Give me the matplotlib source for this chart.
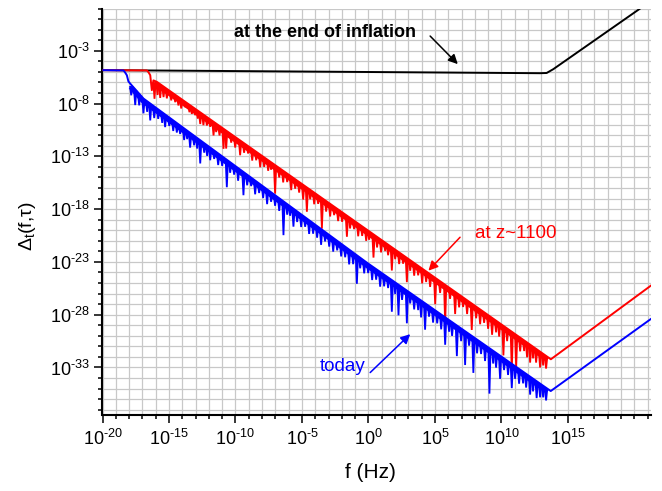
import numpy as np
import matplotlib
matplotlib.use("Agg")
import matplotlib.pyplot as plt
from matplotlib.ticker import FixedLocator, FuncFormatter, NullFormatter

plt.rcParams["font.family"] = ["Liberation Sans", "DejaVu Sans"]
plt.rcParams["mathtext.fontset"] = "custom"
plt.rcParams["mathtext.rm"] = "Liberation Sans"
plt.rcParams["mathtext.it"] = "Liberation Sans:italic"
plt.rcParams["mathtext.bf"] = "Liberation Sans:bold"
plt.rcParams["mathtext.default"] = "regular"

# ---- data: log10(f / Hz) and log10(Delta_t) --------------------------------
# end of inflation
black_logf = [-20.0, 12.9, 13.4, 13.9, 21.3]
black_logD = [-4.83, -5.12, -5.1, -4.74, 1.77]

# recombination, z ~ 1100 : upper edge of the oscillating spectrum
red_logf = [-20.0, -16.66, -16.53, -16.41, -16.29, -16.17, -15.91, 13.72, 21.3]
red_logD = [-4.83, -4.86, -5.05, -5.31, -6.73, -5.8, -5.94, -32.22, -25.19]
# positions of the oscillation minima and their depth (decades below the edge)
red_dip_logf = [
    -16.09, -15.86, -15.66, -15.41, -15.16, -14.83, -14.53, -14.29, -14.08, -13.78,
    -13.46, -13.28, -13.03, -12.83, -12.65, -12.41, -12.15, -11.90, -11.65, -11.45,
    -11.20, -10.90, -10.70, -10.32, -10.02, -9.65, -9.35, -9.05, -8.74, -8.44,
    -8.14, -7.84, -7.54, -7.32, -7.02, -6.71, -6.41, -6.11, -5.81, -5.51,
    -5.21, -4.91, -4.63, -4.38, -4.08, -3.78, -3.50, -3.18, -2.88, -2.58,
    -2.28, -1.98, -1.62, -1.38, -1.08, -0.77, -0.47, -0.17, 0.05, 0.38,
    0.65, 0.95, 1.26, 1.48, 1.76, 2.01, 2.31, 2.61, 2.89, 3.14,
    3.44, 3.74, 4.04, 4.34, 4.64, 5.02, 5.39, 5.77, 6.14, 6.52,
    6.82, 7.12, 7.42, 7.77, 8.10, 8.40, 8.70, 9.00, 9.30, 9.60,
    9.83, 10.15, 10.43, 10.78, 11.11, 11.41, 11.71, 11.93, 12.16, 12.38,
    12.61, 12.91, 13.14, 13.36,
]
red_dip_depth = [
    1.7, 1.2, 1.3, 1.0, 0.9, 0.8, 0.7, 0.8, 0.9, 0.5,
    0.7, 0.7, 0.6, 0.75, 1.1, 1.0, 0.8, 0.7, 1.3, 0.8,
    0.9, 1.9, 1.7, 0.8, 1.0, 1.4, 0.9, 0.7, 1.1, 0.8,
    1.2, 0.9, 1.0, 0.7, 2.7, 0.9, 1.1, 0.8, 1.3, 0.9,
    1.0, 1.4, 2.3, 0.9, 1.1, 0.8, 2.9, 1.0, 1.2, 0.8,
    1.1, 0.9, 2.0, 1.0, 0.8, 1.2, 0.9, 1.1, 0.8, 2.2,
    1.0, 1.2, 0.8, 1.0, 2.2, 0.9, 1.1, 0.8, 2.3, 1.0,
    1.2, 0.9, 1.4, 1.0, 1.2, 2.5, 1.1, 3.7, 1.0, 2.1,
    1.2, 0.9, 1.3, 2.5, 1.1, 1.4, 1.0, 1.3, 1.6, 1.1,
    1.3, 2.8, 1.2, 3.7, 3.1, 1.3, 1.0, 1.4, 1.7, 1.1,
    1.3, 1.5, 1.1, 1.2,
]

# today
blue_logf = [-20.0, -18.42, -18.3, -18.17, -18.05, -17.92, -16.92, -0.08, 13.71, 21.3]
blue_logD = [-4.83, -4.86, -5.05, -5.31, -5.9, -6.1, -7.52, -23.1, -35.23, -28.35]
blue_dip_logf = [
    -17.84, -17.54, -17.24, -16.92, -16.64, -16.41, -16.11, -15.81, -15.51, -15.29,
    -14.98, -14.68, -14.41, -14.16, -13.86, -13.63, -13.41, -13.11, -12.88, -12.65,
    -12.35, -12.13, -11.90, -11.60, -11.30, -11.00, -10.65, -10.40, -10.10, -9.80,
    -9.40, -9.12, -8.82, -8.52, -8.22, -7.92, -7.62, -7.32, -7.02, -6.71,
    -6.39, -6.11, -5.89, -5.64, -5.36, -5.06, -4.76, -4.46, -4.16, -3.86,
    -3.56, -3.26, -2.95, -2.65, -2.35, -2.05, -1.75, -1.45, -1.15, -0.87,
    -0.62, -0.32, -0.02, 0.28, 0.58, 0.88, 1.18, 1.48, 1.76, 2.01,
    2.26, 2.53, 2.89, 3.14, 3.44, 3.74, 3.96, 4.26, 4.56, 4.86,
    5.17, 5.47, 5.77, 6.07, 6.29, 6.65, 6.97, 7.27, 7.57, 7.89,
    8.17, 8.47, 8.77, 9.10, 9.38, 9.60, 9.90, 10.20, 10.50, 10.78,
    11.03, 11.33, 11.63, 11.86, 12.16, 12.38, 12.65, 12.91, 13.14, 13.36,
]
blue_dip_depth = [
    1.0, 1.5, 1.1, 1.4, 1.0, 1.6, 1.1, 0.9, 1.0, 1.2,
    0.8, 1.0, 0.9, 0.8, 1.1, 0.8, 1.4, 0.9, 1.0, 2.2,
    0.9, 1.0, 1.2, 0.8, 1.1, 0.9, 2.6, 1.0, 0.9, 1.2,
    2.2, 1.0, 0.8, 1.3, 0.9, 1.1, 1.4, 0.9, 1.0, 1.2,
    3.2, 1.0, 0.9, 1.7, 1.0, 1.2, 0.9, 1.3, 1.0, 1.1,
    1.5, 0.9, 1.1, 1.3, 0.9, 1.2, 1.0, 1.4, 1.1, 2.7,
    1.0, 1.2, 0.9, 1.3, 1.0, 1.4, 1.1, 1.0, 3.0, 1.1,
    2.9, 1.2, 3.1, 1.0, 1.3, 1.1, 1.6, 2.5, 1.0, 1.3,
    1.1, 1.4, 2.6, 1.1, 1.3, 2.9, 1.2, 3.2, 1.1, 3.4,
    1.3, 1.1, 1.5, 4.3, 1.2, 1.4, 2.2, 1.1, 1.3, 2.3,
    1.2, 1.4, 1.1, 1.3, 1.7, 1.2, 1.6, 1.3, 1.1, 1.2,
]

# axis ticks (exponents of ten)
x_major_exp = [-20, -15, -10, -5, 0, 5, 10, 15]
y_major_exp = [-33, -28, -23, -18, -13, -8, -3]
x_limits_exp = (-20.0, 21.25)
y_limits_exp = (-37.5, 1.0)

# ---- figure -----------------------------------------------------------------
W, H = 662, 491
fig = plt.figure(figsize=(W / 100, H / 100), dpi=100)
ax = fig.add_axes([102.5 / W, 76 / H, 548.5 / W, 406.4 / H])
ax.set_xscale("log")
ax.set_yscale("log")
ax.set_xlim(10.0 ** x_limits_exp[0], 10.0 ** x_limits_exp[1])
ax.set_ylim(10.0 ** y_limits_exp[0], 10.0 ** y_limits_exp[1])


def spectrum(logf, logD, dip_f, dip_depth, color, z):
    logf = np.asarray(logf)
    logD = np.asarray(logD)
    ax.plot(10.0 ** logf, 10.0 ** logD, color=color, lw=1.4, zorder=z,
            solid_capstyle="butt")
    if dip_f is None:
        return
    dip_f = np.asarray(dip_f)
    dip_depth = np.asarray(dip_depth)
    # dense oscillation band hanging from the upper edge
    lo, hi = dip_f.min() - 0.05, dip_f.max() + 0.1
    edge_f = np.concatenate([[lo], logf[(logf > lo) & (logf < hi)], [hi]])
    edge_D = np.interp(edge_f, logf, logD)
    ax.plot(10.0 ** edge_f, 10.0 ** (edge_D - 0.28), color=color, lw=3.4,
            zorder=z, solid_capstyle="butt")
    # each minimum drawn as a narrow notch below the edge
    top = np.interp(dip_f, logf, logD)
    for f0, t0, d0 in zip(dip_f, top, dip_depth):
        ax.plot(10.0 ** np.array([f0 - 0.08, f0, f0 + 0.08]),
                10.0 ** np.array([t0 - 0.2, t0 - d0, t0 - 0.2]),
                color=color, lw=1.3, zorder=z, solid_joinstyle="miter")


spectrum(black_logf, black_logD, None, None, "black", 3)
spectrum(red_logf, red_logD, red_dip_logf, red_dip_depth, "#ff0000", 4)
spectrum(blue_logf, blue_logD, blue_dip_logf, blue_dip_depth, "#0000ff", 5)

# ---- axes styling -----------------------------------------------------------
def pow_label(v, pos):
    e = int(round(np.log10(v)))
    if e < 0:
        return r"$10^{\text{-}%d}$" % (-e)
    return r"$10^{%d}$" % e


ax.xaxis.set_major_locator(FixedLocator(10.0 ** np.array(x_major_exp, float)))
ax.xaxis.set_minor_locator(FixedLocator(10.0 ** np.arange(-20, 22, dtype=float)))
ax.yaxis.set_major_locator(FixedLocator(10.0 ** np.array(y_major_exp, float)))
ax.yaxis.set_minor_locator(FixedLocator(10.0 ** np.arange(-37, 2, dtype=float)))
ax.xaxis.set_major_formatter(FuncFormatter(pow_label))
ax.yaxis.set_major_formatter(FuncFormatter(pow_label))
ax.xaxis.set_minor_formatter(NullFormatter())
ax.yaxis.set_minor_formatter(NullFormatter())

ax.grid(True, which="both", color="#c8c8c8", lw=0.9)
ax.set_axisbelow(True)
for side in ("top", "right"):
    ax.spines[side].set_visible(False)
for side in ("left", "bottom"):
    ax.spines[side].set_linewidth(1.5)
ax.tick_params(which="major", direction="out", length=5.8, width=1.1,
               labelsize=13, color="black")
ax.tick_params(which="minor", direction="out", length=2.9, width=1.1)
ax.tick_params(axis="x", which="major", pad=4.0)
ax.tick_params(axis="y", which="major", pad=3.5)

# ---- labels and annotations -------------------------------------------------
fig.text(370.5 / W, 1 - 472 / H, "f (Hz)", ha="center", va="center",
         fontsize=15)
fig.text(27 / W, 1 - 226 / H, r"$\Delta_t(f{,}\tau)$", ha="center",
         va="center", rotation=90, fontsize=14)

arrow = dict(arrowstyle="-|>", lw=1.1, mutation_scale=14, shrinkA=0, shrinkB=0)

ax.text(10 ** -3.26, 10 ** -1.25, "at the end of inflation", fontsize=13,
        fontweight="bold", ha="center", va="center", zorder=6)
ax.annotate("", xy=(10 ** 6.72, 10 ** -4.26), xytext=(10 ** 4.64, 10 ** -1.6),
            arrowprops=dict(arrow, color="black"), zorder=6)

ax.text(10 ** 11.09, 10 ** -20.34, "at z~1100", fontsize=13.5, color="#ff0000",
        ha="center", va="center", zorder=6)
ax.annotate("", xy=(10 ** 4.51, 10 ** -23.83), xytext=(10 ** 6.89, 10 ** -20.66),
            arrowprops=dict(arrow, color="#ff0000"), zorder=6)

ax.text(10 ** -1.94, 10 ** -32.89, "today", fontsize=13.5, color="#0000ff",
        ha="center", va="center", zorder=6)
ax.annotate("", xy=(10 ** 3.14, 10 ** -29.84), xytext=(10 ** 0.13, 10 ** -33.48),
            arrowprops=dict(arrow, color="#0000ff"), zorder=6)

fig.savefig("out.png", dpi=100)
